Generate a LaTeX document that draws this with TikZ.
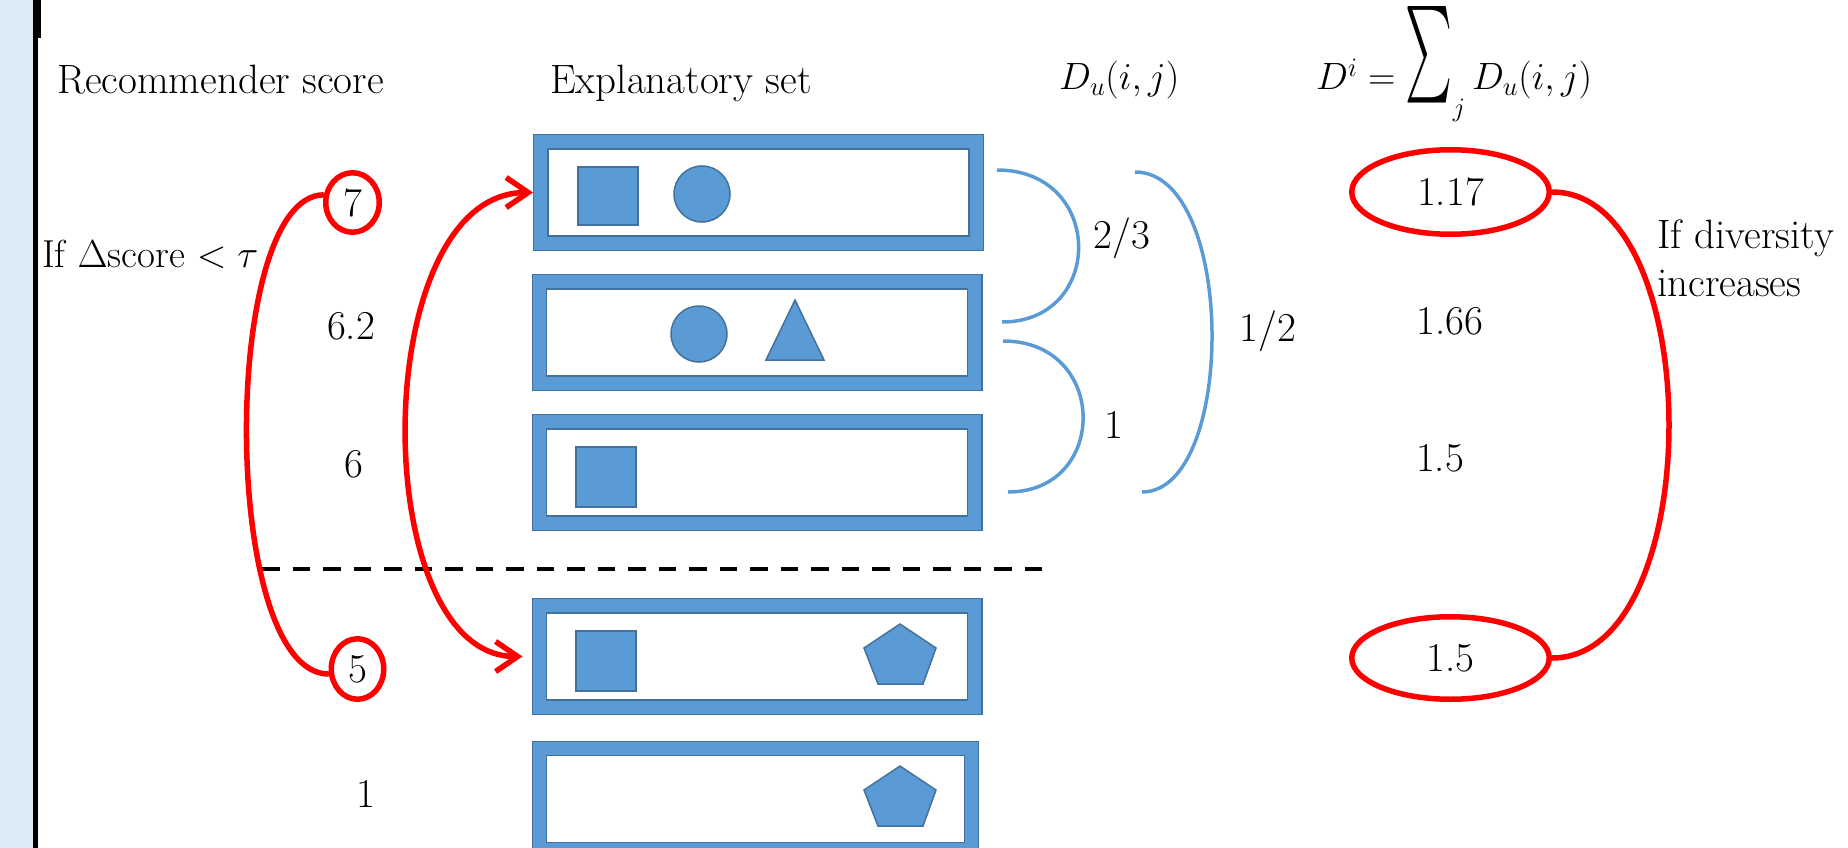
\RequirePackage{fix-cm}
\documentclass[tikz,border=0pt]{standalone}
\usepackage{graphicx}
\usetikzlibrary{arrows.meta,shapes.geometric}

\definecolor{boxblue}{RGB}{91,155,213}
\definecolor{edgeblue}{RGB}{65,113,156}
\definecolor{panelblue}{RGB}{221,235,247}

% a tall summation sign for the heading formula, with its box trimmed to the glyph
\newcommand{\bigsigma}{\mathop{\raisebox{4pt}[52pt][25pt]{$\vcenter{\hbox{\resizebox*{47pt}{140pt}{$\textstyle\sum$}}}$}}\nolimits}

\begin{document}
\begin{tikzpicture}[x=1pt,y=-1pt,
  lbl/.style={font=\fontsize{41}{48}\selectfont, inner sep=0pt, text=black},
  mathlbl/.style={font=\fontsize{38}{46}\selectfont, inner sep=0pt, text=black},
  itembox/.style={draw=edgeblue, line width=1.3pt, double=boxblue, double distance=13pt,
    minimum width=435.4pt, minimum height=101.4pt, inner sep=0pt, outer sep=7.8pt},
  itemshape/.style={fill=boxblue, draw=edgeblue, line width=1.5pt},
  sqitem/.style={itemshape, rectangle, minimum width=60pt, minimum height=58pt, inner sep=0pt},
  ciritem/.style={itemshape, circle, minimum size=56pt, inner sep=0pt},
  redpen/.style={draw=red, line width=5.5pt},
  ring/.style={redpen, ellipse, inner sep=0pt, outer sep=2.75pt, font=\fontsize{41}{48}\selectfont},
  bracket/.style={draw=boxblue, line width=3.5pt},
  >={Straight Barb[length=22pt,width=30pt]}
]
\useasboundingbox (0,0) rectangle (1848,848);
\clip (0,0) rectangle (1848,848);

% side panel and rule
\fill[panelblue] (0,0) rectangle (33,848);
\fill[black] (33,0) rectangle (41,38);
\fill[black] (33,38) rectangle (38,848);

% column headings
\node[lbl, anchor=base west] (hscore) at (57,94) {Recommender score};
\node[lbl, anchor=base west] (hexpl) at (550,94) {Explanatory set};
\node[mathlbl, anchor=base west] (hdu) at (1059,90) {$D_u(i,j)$};
\node[mathlbl, anchor=base west] (hdi) at (1316,90) {$D^i = \bigsigma_j D_u(i,j)$};

% explanation sets
\node[itembox] (b1) at (758.5,192.5) {};
\node[itembox] (b2) at (757,332.5) {};
\node[itembox] (b3) at (757,472.5) {};
\node[itembox] (b4) at (757,656.5) {};
\node[itembox, minimum width=432pt] (b5) at (755.5,799.2) {};

% items inside the sets
\node[sqitem] (sq1) at (608,196) {};
\node[ciritem] (ci1) at (702,194) {};
\node[ciritem] (ci2) at (699,334) {};
\draw[itemshape] (795,300) -- (824,360) -- (766,360) -- cycle;
\node[sqitem, minimum height=60pt] (sq3) at (606,477) {};
\node[sqitem, minimum height=60pt] (sq4) at (606,661) {};
\draw[itemshape] (900,624) -- (936,648) -- (923,684) -- (878,684) -- (864,648) -- cycle;
\draw[itemshape] (900,766) -- (936,790) -- (923,826) -- (878,826) -- (864,790) -- cycle;

% threshold line
\coordinate (cutl) at (262,569);
\coordinate (cutr) at (1043,569);
\draw[black, line width=4pt, dash pattern=on 17.5pt off 13pt] (cutl) -- (cutr);

% recommender scores
\node[ring, minimum width=53.5pt, minimum height=59.5pt] (c7) at (352.5,202.5) {7};
\node[lbl] (s62) at (351,326) {6.2};
\node[lbl] (s6) at (354,464) {6};
\node[ring, minimum width=52.5pt, minimum height=60.5pt] (c5) at (357.5,669) {5};
\node[lbl] (s1) at (366,794) {1};
\node[lbl, font=\fontsize{39}{46}\selectfont, anchor=base west] (cond) at (42,267) {If $\Delta$score $<\tau$};

% swaps
\draw[redpen] (c7.165) .. controls +(-104,0) and +(-109,0) .. (c5.190);
\draw[redpen, <->] ([xshift=-9pt]b4.west) .. controls +(-156,0) and +(-166,0) .. (b1.west);

% pairwise distances
\coordinate (a1s) at (997,170);  \coordinate (a1e) at (1002,322);
\coordinate (a2s) at (1003,341); \coordinate (a2e) at (1008,492);
\coordinate (a3s) at (1135,172); \coordinate (a3e) at (1142,492);
\draw[bracket] (a1s) .. controls +(108,0) and +(103,0) .. (a1e);
\draw[bracket] (a2s) .. controls +(106,0) and +(101,0) .. (a2e);
\draw[bracket] (a3s) .. controls +(101.5,0) and +(94.5,0) .. (a3e);
\node[lbl] (f23) at (1122,238) {2/3};
\node[lbl] (f1) at (1114,425) {1};
\node[lbl] (f12) at (1268,331) {1/2};

% diversity values
\node[ring, minimum width=197.5pt, minimum height=84.5pt] (e1) at (1450.5,192) {1.17};
\node[lbl] (d166) at (1450,321) {1.66};
\node[lbl] (d15) at (1440,458) {1.5};
\node[ring, minimum width=197.5pt, minimum height=82.5pt] (e2) at (1450.5,658) {1.5};
\draw[redpen] (e1.east) .. controls +(156,0) and +(156,0) .. (e2.east);
\node[lbl, anchor=north west, align=left] (divnote) at (1657,219.5) {If diversity\\increases};
\end{tikzpicture}
\end{document}
